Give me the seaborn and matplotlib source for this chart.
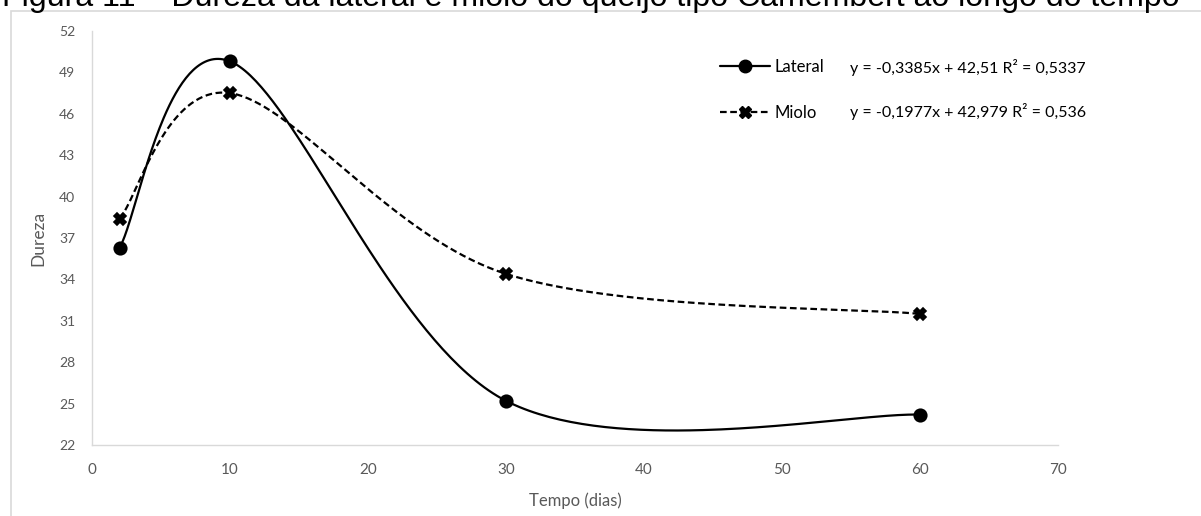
import numpy as np
import pandas as pd
import seaborn as sns
import matplotlib
matplotlib.use("Agg")
import matplotlib.pyplot as plt
from matplotlib.lines import Line2D
from matplotlib.patches import Rectangle

# ---- data ----
tempo = [2, 10, 30, 60]
lateral = [36.3, 49.8, 25.2, 24.2]
miolo = [38.4, 47.5, 34.4, 31.5]
series_names = ["Lateral", "Miolo"]
equations = ["y = -0,3385x + 42,51 R² = 0,5337", "y = -0,1977x + 42,979 R² = 0,536"]
x_ticks = [0, 10, 20, 30, 40, 50, 60, 70]
y_ticks = [22, 25, 28, 31, 34, 37, 40, 43, 46, 49, 52]
title = "Figura 11 – Dureza da lateral e miolo do queijo tipo Camembert ao longo do tempo"
x_label = "Tempo (dias)"
y_label = "Dureza"

sns.set_style("white")
plt.rcParams["font.family"] = ["Lato", "DejaVu Sans"]

W, H, DPI = 1201, 516, 100
fig = plt.figure(figsize=(W / DPI, H / DPI), dpi=DPI)
L, R, T, B = 92, 1058, 31, 445
ax = fig.add_axes([L / W, 1 - B / H, (R - L) / W, (B - T) / H])

xmin, xmax, ymin, ymax = 0, 70, 22, 52
ax.set_xlim(xmin, xmax)
ax.set_ylim(ymin, ymax)

# Excel-like smooth line (Catmull-Rom Bezier in screen space)
def smooth(xs, ys, n=80):
    sx = (R - L) / (xmax - xmin)
    sy = (B - T) / (ymax - ymin)
    P = np.column_stack([np.asarray(xs, float) * sx, np.asarray(ys, float) * sy])
    segs = []
    m = len(P)
    for i in range(m - 1):
        p0 = P[max(i - 1, 0)]
        p1 = P[i]
        p2 = P[i + 1]
        p3 = P[min(i + 2, m - 1)]
        c1 = p1 + (p2 - p0) / 6
        c2 = p2 - (p3 - p1) / 6
        t = np.linspace(0, 1, n)[:, None]
        Bz = (1 - t) ** 3 * p1 + 3 * (1 - t) ** 2 * t * c1 + 3 * (1 - t) * t ** 2 * c2 + t ** 3 * p2
        segs.append(Bz if i == 0 else Bz[1:])
    C = np.vstack(segs)
    return C[:, 0] / sx, C[:, 1] / sy

dash = (0, (3, 1.6))
styles = {
    "Lateral": dict(ls="-", marker="o", ms=9),
    "Miolo": dict(ls=dash, marker="X", ms=9),
}
df = pd.DataFrame({"tempo": tempo * 2, "dureza": lateral + miolo,
                   "serie": ["Lateral"] * 4 + ["Miolo"] * 4})

for name, vals in zip(series_names, [lateral, miolo]):
    sxs, sys_ = smooth(tempo, vals)
    st = styles[name]
    sns.lineplot(x=sxs, y=sys_, ax=ax, color="black", lw=1.6, sort=False,
                 legend=False, zorder=3)
    ax.lines[-1].set_linestyle(st["ls"])
    sub = df[df.serie == name]
    ax.plot(sub.tempo, sub.dureza, ls="none", marker=st["marker"], ms=st["ms"],
            color="black", mec="black", mew=1.2, zorder=4)

ax.set_xticks(x_ticks)
ax.set_yticks(y_ticks)
ax.set_xticklabels([str(v) for v in x_ticks], fontsize=11, color="#595959")
ax.set_yticklabels([str(v) for v in y_ticks], fontsize=10, color="#595959")
ax.tick_params(axis="both", length=0)
ax.tick_params(axis="y", pad=12)
ax.tick_params(axis="x", pad=13)

for s in ["top", "right"]:
    ax.spines[s].set_visible(False)
for s in ["left", "bottom"]:
    ax.spines[s].set_color("#D9D9D9")
    ax.spines[s].set_linewidth(1.0)

ax.set_xlabel(x_label, fontsize=12, color="#595959", labelpad=11)
ax.set_ylabel(y_label, fontsize=12.5, color="#595959", labelpad=9)

# legend
handles = [
    Line2D([], [], color="black", lw=1.6, ls="-", marker="o", ms=9),
    Line2D([], [], color="black", lw=1.6, ls=dash, marker="X", ms=9),
]
leg = ax.legend(handles, series_names, loc="center left", frameon=False,
                bbox_to_anchor=((720 - L) / (R - L), 1 - ((67 + 112) / 2 - T) / (B - T)),
                borderpad=0, borderaxespad=0, handlelength=3.0, handletextpad=0.3,
                labelspacing=1.8, fontsize=12)
for txt in leg.get_texts():
    txt.set_color("black")

for eq, yp in zip(equations, [67, 112]):
    ax.text((850 - L) / (R - L), 1 - (yp - T) / (B - T), eq, transform=ax.transAxes,
            fontsize=11.5, color="black", va="center", ha="left")

# outer border
fig.patches.append(Rectangle((11 / W, -0.2), 2.0, 1.2 - 11 / H, transform=fig.transFigure,
                             fill=False, edgecolor="#D9D9D9", lw=1.2))

# title (cut off at top, as in the reference)
t = fig.text(2 / W, 1 - 6 / H, title, fontsize=20, family=["Liberation Sans", "DejaVu Sans"],
             color="black", ha="left", va="baseline")
fig.canvas.draw()
bb = t.get_window_extent()
t.set_fontsize(20 * 1176 / bb.width)

fig.savefig("out.png", dpi=DPI)
